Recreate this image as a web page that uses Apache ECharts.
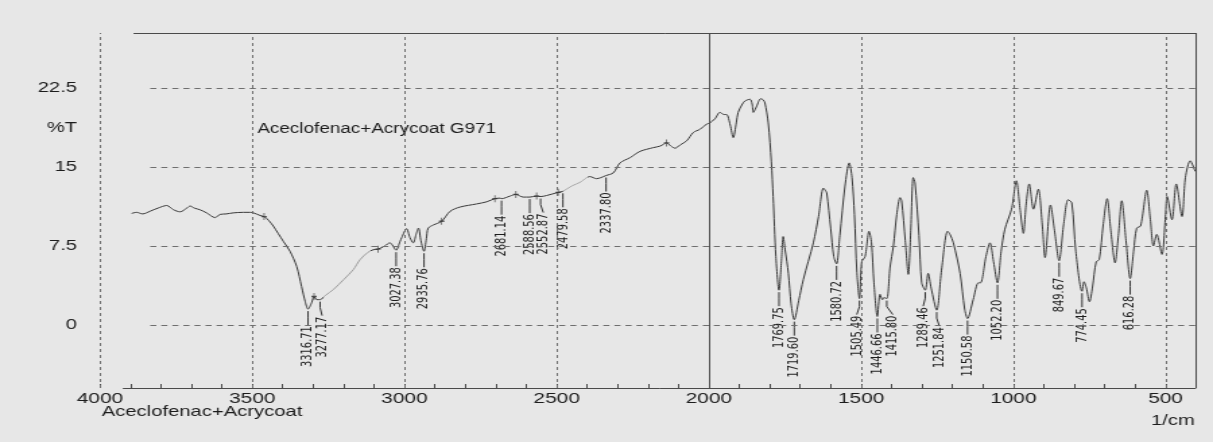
<!DOCTYPE html>
<html>
<head>
<meta charset="utf-8">
<title>FTIR spectrum</title>
<script src="https://cdn.jsdelivr.net/npm/echarts@6/dist/echarts.min.js"></script>
<style>
  html, body { margin: 0; padding: 0; background: #e7e7e7; overflow: hidden; }
  /* The printout uses a wide horizontal scale: the chart is drawn at 900px and stretched to 1213px. */
  #chart { width: 900px; height: 442px; transform: scaleX(1.347778); transform-origin: 0 0; }
</style>
</head>
<body>
<div id="chart"></div>
<script>
// Spectrum: wavenumber (1/cm) and transmittance (%T), high to low wavenumber
const wavenumber = [
  3896, 3880, 3860, 3836, 3810, 3781, 3759, 3737, 3715, 3704, 3690, 3672, 3650, 3622, 3606, 3585,
  3562, 3530, 3507, 3496, 3474, 3461, 3445, 3431, 3415, 3398, 3376, 3354, 3338, 3326, 3316.71, 3305,
  3297, 3288, 3277.17, 3260, 3234, 3200, 3168, 3146, 3120, 3102, 3087, 3065, 3048, 3040, 3027.38, 3015,
  3009, 2993, 2982, 2971, 2962, 2954, 2946, 2935.76, 2928, 2922, 2905, 2878, 2850, 2818, 2763, 2730,
  2703, 2686, 2681.14, 2653, 2634, 2610, 2588.56, 2566, 2552.87, 2533, 2495, 2479.58, 2451, 2420, 2407, 2391,
  2369, 2355, 2337.8, 2314, 2292, 2259, 2226, 2183, 2160, 2139, 2125, 2111, 2095, 2073, 2051, 2029,
  2007, 1997, 1980, 1964, 1950, 1942, 1930, 1920, 1910, 1904, 1890, 1881, 1865, 1858, 1854, 1848,
  1843, 1830, 1822, 1816, 1805, 1795, 1789, 1780, 1769.75, 1762, 1756, 1750, 1739, 1730, 1719.6, 1705,
  1690, 1657, 1640, 1624, 1618, 1613, 1600, 1590, 1580.72, 1570, 1553, 1539, 1530, 1522, 1514, 1505.49,
  1498, 1487, 1474, 1466, 1458, 1446.66, 1438, 1430, 1425, 1415.8, 1405, 1394, 1383, 1372, 1367, 1355,
  1345, 1337, 1329, 1323, 1310, 1301, 1289.46, 1280, 1270, 1251.84, 1236, 1216, 1208, 1197, 1175, 1160,
  1150.58, 1132, 1115, 1108, 1090, 1077, 1065, 1052.2, 1040, 1028, 1006, 990, 978, 967, 958, 948,
  934, 918, 905, 896, 878, 865, 849.67, 835, 820, 808, 795, 774.45, 768, 760, 750, 740,
  728, 718, 705, 692, 680, 666, 655, 644, 630, 616.28, 605, 595, 582, 562, 550, 540,
  529, 512, 500, 495, 479, 465, 446, 435, 419, 403
];
const transmittance = [
  10.6, 10.7, 10.55, 10.8, 11.1, 11.35, 10.95, 10.75, 11.1, 11.3, 11.1, 10.95, 10.65, 10.2, 10.5, 10.55,
  10.65, 10.7, 10.7, 10.65, 10.4, 10.3, 9.9, 9.4, 8.7, 7.95, 7.0, 5.55, 3.65, 2.2, 1.5, 2.1,
  2.7, 2.4, 2.4, 2.8, 3.35, 4.3, 5.25, 6.2, 6.9, 7.15, 7.2, 7.5, 7.8, 7.6, 7.1, 7.9,
  8.3, 9.15, 8.3, 7.8, 8.6, 9.2, 8.0, 7.0, 8.2, 9.2, 9.5, 9.85, 10.8, 11.2, 11.5, 11.7,
  12.0, 12.05, 12.0, 12.25, 12.4, 12.15, 12.15, 12.25, 12.2, 12.3, 12.6, 12.7, 13.2, 13.6, 13.9, 14.1,
  13.9, 14.0, 14.2, 14.45, 15.4, 15.9, 16.5, 16.85, 17.0, 17.3, 17.0, 16.8, 17.1, 17.5, 18.3, 18.6,
  19.1, 19.2, 19.6, 20.2, 20.0, 20.0, 19.0, 17.8, 19.2, 20.2, 21.0, 21.3, 21.45, 21.0, 20.2, 20.5,
  20.8, 21.5, 21.4, 21.1, 19.2, 15.5, 12.2, 6.5, 3.3, 6.0, 8.4, 7.2, 4.9, 2.0, 0.5, 2.3,
  4.3, 7.8, 10.3, 13.0, 12.8, 12.55, 9.2, 6.5, 5.8, 8.5, 13.2, 15.4, 14.0, 10.5, 5.0, 2.5,
  6.0, 6.5, 8.9, 7.8, 4.0, 0.8, 2.9, 2.4, 2.6, 2.5, 5.5, 7.5, 10.5, 12.1, 11.8, 8.0,
  4.8, 9.0, 14.0, 13.5, 8.5, 4.0, 3.3, 4.9, 3.5, 1.4, 5.2, 8.9, 8.6, 7.8, 4.9, 1.5,
  0.6, 2.4, 4.0, 4.0, 6.5, 7.8, 6.0, 4.0, 7.0, 9.1, 11.0, 13.7, 11.0, 8.7, 11.5, 13.4,
  11.0, 12.9, 9.5, 6.4, 11.4, 9.0, 6.1, 9.5, 11.9, 11.6, 7.0, 3.2, 4.1, 3.5, 2.2, 3.6,
  6.0, 6.2, 9.5, 12.0, 9.0, 5.9, 8.5, 11.8, 8.0, 4.4, 7.0, 9.2, 9.4, 12.8, 10.0, 7.5,
  8.6, 6.7, 10.5, 12.2, 10.0, 13.4, 10.3, 14.0, 15.6, 14.6
];

// Peak-picked wavenumbers printed below the trace
const peakWavenumbers = [
  3316.71, 3277.17, 3027.38, 2935.76, 2681.14, 2588.56, 2552.87, 2479.58, 2337.8,
  1769.75, 1719.6, 1580.72, 1505.49, 1446.66, 1415.8, 1289.46, 1251.84, 1150.58,
  1052.2, 849.67, 774.45, 616.28
];
// Small cross markers the recorder placed on the trace
const crossWavenumbers = [3461, 3297, 3087, 2878, 2703, 2634, 2566, 2495, 2139];

// Axis ranges and gridlines
const xRange = [400, 4000];
const yRange = [-6, 27.75];
const yTickValues = [0, 7.5, 15, 22.5];
const yUnitValue = 18.75;          // where "%T" sits on the y scale
const xDashedGrid = [4000, 3500, 3000, 2500, 1500, 1000, 500];
const xSolidGrid = [2000, 400];
const hGridStart = 3835;
const frameTopStart = 3890;
const baselineStart = 3925;

const sampleName = 'Aceclofenac+Acrycoat G971';
const footerName = 'Aceclofenac+Acrycoat';
const xUnit = '1/cm';

const spectrum = wavenumber.map((w, i) => [w, transmittance[i]]);
const tAt = w => transmittance[wavenumber.indexOf(w)];
const peaks = peakWavenumbers.map(w => [w, tAt(w)]);
const crosses = crossWavenumbers.map(w => [w, tAt(w)]);

// Sideways nudge (px) for labels that would otherwise collide
const labelNudge = { 3277.17: 1.5, 2552.87: 2, 1505.49: -2, 1415.8: 4.5, 1289.46: -1.5, 1251.84: 2 };

const ink = '#1c1c1c';
const gridInk = '#6e6e6e';
const frameInk = '#4a4a4a';
const font = "'Liberation Sans', Arial, sans-serif";
const narrowFont = "'Liberation Sans Narrow', 'Arial Narrow', 'DejaVu Sans Condensed', sans-serif";

const vDash = { color: gridInk, width: 1, type: [3, 3] };
const hDash = { color: gridInk, width: 1, type: [4.5, 3.7] };
const solid = { color: frameInk, width: 1, type: 'solid' };

const markData = [];
xDashedGrid.forEach(v => markData.push({ xAxis: v, lineStyle: vDash }));
xSolidGrid.forEach(v => markData.push({ xAxis: v, lineStyle: solid }));
yTickValues.forEach(v => markData.push([{ coord: [hGridStart, v], lineStyle: hDash }, { coord: [xRange[0], v] }]));
markData.push([{ coord: [frameTopStart, yRange[1]], lineStyle: solid }, { coord: [xRange[0], yRange[1]] }]);
markData.push([{ coord: [baselineStart, yRange[0]], lineStyle: solid }, { coord: [xRange[0], yRange[0]] }]);

const chart = echarts.init(document.getElementById('chart'), null, { renderer: 'canvas' });

const plainTitle = size => ({ fontFamily: font, fontSize: size, fontWeight: 'normal', color: ink });

chart.setOption({
  backgroundColor: '#e7e7e7',
  animation: false,
  textStyle: { fontFamily: font },
  title: [
    { text: sampleName, left: 191, top: 122, padding: 0, textStyle: plainTitle(14) },
    { text: footerName, left: 75.5, top: 404, padding: 0, textStyle: plainTitle(15) },
    { text: xUnit, right: 13.5, top: 413, padding: 0, textStyle: plainTitle(15) }
  ],
  grid: { left: 74.2, right: 12.6, top: 33, bottom: 54 },
  xAxis: {
    type: 'value',
    inverse: true,
    min: xRange[0],
    max: xRange[1],
    interval: 100,
    axisLine: { show: false, onZero: false },
    axisTick: { show: true, inside: true, length: 4, lineStyle: { color: frameInk } },
    splitLine: { show: false },
    axisLabel: {
      color: ink, fontSize: 15.5, fontFamily: font, margin: 3,
      showMinLabel: true, showMaxLabel: true,
      formatter: v => (v % 500 === 0 ? String(v) : '')
    }
  },
  yAxis: {
    type: 'value',
    min: yRange[0],
    max: yRange[1],
    axisLine: { show: false },
    axisTick: { show: false },
    splitLine: { show: false },
    axisLabel: {
      color: ink, fontSize: 15, fontFamily: font, margin: 17,
      customValues: yTickValues.concat([yUnitValue]),
      formatter: v => (v === yUnitValue ? '%T' : String(v))
    }
  },
  visualMap: {
    type: 'piecewise',
    show: false,
    seriesIndex: 0,
    dimension: 0,
    pieces: [
      { min: 3110, max: 3268, color: '#9c9c9c' },
      { min: 2400, max: 2478, color: '#a8a8a8' }
    ],
    outOfRange: { color: '#383838' }
  },
  series: [
    {
      name: 'spectrum',
      type: 'line',
      data: spectrum,
      showSymbol: false,
      smooth: 0.3,
      lineStyle: { width: 1 },
      silent: true,
      z: 3
    },
    {
      name: 'frame',
      type: 'line',
      data: [],
      silent: true,
      markLine: {
        silent: true,
        symbol: ['none', 'none'],
        label: { show: false },
        emphasis: { disabled: true },
        animation: false,
        data: markData
      },
      z: 1
    },
    {
      name: 'crosses',
      type: 'scatter',
      data: crosses,
      symbol: 'path://M5,0L5,10M0,5L10,5',
      symbolSize: [4, 7],
      itemStyle: { color: 'rgba(0,0,0,0)', borderColor: '#333', borderWidth: 1 },
      silent: true,
      z: 4
    },
    {
      name: 'peaks',
      type: 'custom',
      data: peaks,
      silent: true,
      z: 4,
      renderItem: (params, api) => {
        const w = api.value(0);
        const p = api.coord([w, api.value(1)]);
        const dx = labelNudge[w] || 0;
        const top = p[1] + 2;
        const lead = 14;
        return {
          type: 'group',
          children: [
            {
              type: 'polyline',
              shape: { points: [[p[0], top], [p[0], top + 6], [p[0] + dx, top + lead]] },
              style: { stroke: '#333', lineWidth: 1, fill: null }
            },
            {
              type: 'text', x: p[0] + dx, y: top + lead + 1, rotation: Math.PI / 2,
              style: { text: w.toFixed(2), fill: ink, font: '11px ' + narrowFont, align: 'right', verticalAlign: 'middle' }
            }
          ]
        };
      }
    }
  ]
});
</script>
</body>
</html>
